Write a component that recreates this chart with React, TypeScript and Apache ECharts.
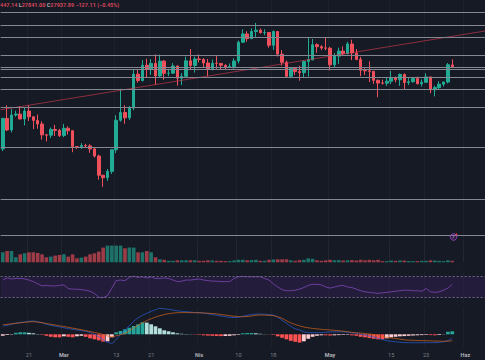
import React, { useEffect, useRef } from "react";
import * as echarts from "echarts";

// ---- data ----
const startDay = Date.UTC(2023, 1, 15);
const dayCount = 111;
const categories: string[] = Array.from({ length: dayCount }, (_, i) =>
  new Date(startDay + i * 86400000).toISOString().slice(0, 10)
);

// [open, close, low, high]
const ohlc: number[][] = [
  [22200, 24330, 22050, 24370], [24330, 23520, 23450, 25250], [23520, 24570, 23350, 24980], [24570, 24630, 24450, 24870],
  [24630, 24290, 24270, 25190], [24290, 24840, 23840, 25120], [24840, 24440, 24150, 25260], [24440, 24190, 23580, 24480],
  [24190, 23940, 23610, 24600], [23940, 23180, 22850, 24130], [23180, 23160, 22720, 23220], [23160, 23560, 22960, 23690],
  [23560, 23490, 23100, 23880], [23490, 23130, 23030, 23600], [23130, 23640, 23020, 23950], [23640, 23470, 23200, 23780],
  [23470, 22360, 21970, 23480], [22360, 22350, 22190, 22400], [22350, 22430, 22200, 22600], [22430, 22410, 22280, 22550],
  [22410, 22200, 21930, 22530], [22200, 21700, 21600, 22270], [21700, 20360, 20050, 21800], [20360, 20190, 19550, 20370],
  [20190, 20630, 19970, 20800], [20630, 22140, 20450, 22180], [22140, 24200, 21900, 24550], [24200, 24740, 24100, 26400],
  [24740, 24370, 23950, 25250], [24370, 25050, 24220, 25200], [25050, 27420, 24900, 27720], [27420, 26970, 26830, 27740],
  [26970, 28040, 26910, 28400], [28040, 27770, 27160, 28500], [27770, 28170, 27370, 28470], [28170, 27300, 26680, 28800],
  [27300, 28330, 27180, 28790], [28330, 27480, 27030, 28410], [27480, 27490, 27280, 27800], [27490, 27990, 27460, 28190],
  [27990, 27140, 26620, 28030], [27140, 27270, 26660, 27500], [27270, 28350, 27250, 28650], [28350, 28030, 27720, 29170],
  [28030, 28480, 27530, 28650], [28480, 28450, 28250, 28800], [28450, 28200, 27880, 28540], [28200, 27810, 27280, 28480],
  [27810, 28180, 27680, 28440], [28180, 28170, 27800, 28680], [28170, 28040, 27730, 28190], [28040, 27920, 27780, 28110],
  [27920, 27950, 27880, 28170], [27950, 28340, 27800, 28530], [28340, 29650, 28170, 29770], [29650, 30230, 29610, 30550],
  [30230, 29900, 29680, 30420], [29900, 30400, 29880, 30620], [30400, 30490, 29980, 31000], [30490, 30320, 30260, 30610],
  [30320, 30330, 30140, 30550], [30330, 29440, 29270, 30330], [29440, 30400, 29100, 30480], [30400, 28820, 28650, 30410],
  [28820, 28250, 28020, 29100], [28250, 27270, 27150, 28370], [27270, 27820, 27140, 27880], [27820, 27600, 27370, 27830],
  [27600, 27520, 26960, 28010], [27520, 28310, 27210, 28380], [28310, 28420, 27250, 30020], [28420, 29480, 28390, 29880],
  [29480, 29340, 28910, 29580], [29340, 29250, 29100, 29450], [29250, 29230, 29090, 29960], [29230, 28070, 27680, 29330],
  [28070, 28680, 27870, 28880], [28680, 29030, 28130, 29270], [29030, 28850, 28690, 29360], [28850, 29530, 28800, 29680],
  [29530, 28900, 28400, 29830], [28900, 28450, 28400, 29170], [28450, 27690, 27280, 28630], [27690, 27650, 27360, 27830],
  [27650, 27620, 26870, 28320], [27620, 26990, 26740, 27630], [26990, 26800, 25810, 27050], [26800, 26790, 26700, 27030],
  [26790, 26930, 26600, 27180], [26930, 27170, 26730, 27650], [27170, 27030, 26850, 27250], [27030, 27400, 26600, 27470],
  [27400, 26830, 26380, 27470], [26830, 26890, 26660, 27150], [26890, 27120, 26840, 27160], [27120, 26750, 26700, 27250],
  [26750, 26850, 26550, 27050], [26850, 27230, 26830, 27480], [27230, 26330, 26090, 27230], [26330, 26480, 25870, 26620],
  [26480, 26720, 26350, 26920], [26720, 26870, 26560, 26900], [26870, 28080, 26770, 28200], [28065, 27938, 27841, 28447],
];

const volume: number[] = [
  10, 11.3, 11.3, 5, 8, 9, 10, 10, 9.3, 8, 5, 5.7, 6.7, 7.3, 8, 5.7, 8, 4, 4.7, 5.7,
  8, 9, 10.7, 14.7, 16.7, 16.7, 16.7, 16.7, 14, 14.7, 14.7, 10, 10, 11.3, 10, 5, 3, 2.5, 1.5, 1.5,
  2, 2, 2, 2, 2, 1.5, 1.5, 2, 1.8, 1.5, 1.5, 1.2, 1.2, 1.8, 2.5, 2.5, 2, 2.2, 2.5, 1.5,
  1.5, 2.5, 2.8, 3, 3, 3, 2, 1.5, 2.2, 2.5, 4, 3.5, 2, 1.5, 2, 2.5, 2, 2.2, 1.8, 2,
  2.2, 1.8, 2.5, 2, 2.5, 2, 2.5, 1.2, 1.2, 1.8, 1.5, 1.8, 1.8, 1.3, 1.2, 1.2, 1.5, 1.5, 2, 1.8,
  1.5, 1.2, 2, 1.5,
];

const rsi: number[] = [
  63, 67, 65, 66, 66, 65, 63, 60, 56, 52, 53, 52, 52, 53, 54, 47, 46, 46, 45, 44,
  42, 38, 31, 30, 34, 48, 62, 63, 62, 68, 70, 68, 69, 67, 69, 66, 66, 67, 66, 63,
  60, 61, 63, 63, 64, 65, 63, 62, 61, 61, 60, 60, 60, 66, 69, 70, 69, 69, 69, 69,
  66, 63, 56, 50, 45, 43, 43, 44, 46, 49, 53, 55, 55, 54, 50, 48, 50, 52, 53, 50,
  49, 46, 43, 41, 40, 39, 38, 39, 40, 41, 42, 43, 44, 44, 43, 43, 42, 47, 41, 40,
  41, 44, 48, 55,
];

const macd: number[] = [
  8.2, 9, 10, 11.2, 11.8, 12.4, 13, 13.3, 12.5, 11.5, 10, 9, 8.2, 7.4, 6.5, 5.8, 5, 4.3, 3.7, 3,
  1.8, 0, -2.5, -5.5, -8, -9, -5, 0, 4, 8.5, 13, 16.5, 19, 21, 23, 24.5, 26, 25.5, 25, 24.3,
  23.5, 23, 22.6, 22.2, 21.8, 21.5, 21.2, 20.5, 19.8, 19, 18.3, 17.6, 17, 16.8, 17, 18, 19, 19.8, 20.3, 20.2,
  20, 19.6, 19.3, 17, 14, 11, 8, 5.5, 4.3, 2.5, 1.8, 1.6, 1.6, 1.7, 2, 2.3, 2.5, 2.6, 2.4, 2,
  1.5, 1, 0.2, -0.8, -1.8, -2.8, -4, -5.3, -6.4, -7, -7.5, -7.9, -8.3, -8.4, -8.4, -8.4, -8.4, -8.3, -8.4, -8.3,
  -8, -7.5, -6.2, -4,
];

const signal: number[] = [
  9.5, 10, 10.5, 11, 11.5, 12, 12.4, 12.6, 12.2, 11.6, 10.8, 10, 9.3, 8.5, 7.8, 7, 6.2, 5.4, 4.6, 3.7,
  2.8, 1.8, 1, -0.3, -1.6, -2.4, -1.5, -0.3, 0.8, 3.5, 6.2, 9, 11.5, 13.7, 15.6, 17.2, 18.6, 19.8, 20.6, 21.2,
  21.6, 21.7, 21.7, 21.7, 21.6, 21.6, 21.4, 21.1, 20.8, 20.4, 19.8, 19.2, 18.6, 18.1, 17.8, 17.6, 17.8, 18.3, 19, 19.3,
  19.2, 19, 18.6, 17.5, 16, 13.5, 11.5, 9.8, 8.5, 7.3, 6.5, 5.9, 5.4, 5, 4.6, 4.3, 4, 3.6, 3.1, 2.6,
  2, 1.6, 1.2, 0.8, 0.3, -0.2, -1.2, -2.1, -3, -3.6, -4.2, -4.8, -5.5, -5.8, -6, -6.2, -6.3, -6.4, -6.5, -6.7,
  -6.8, -7, -6.9, -6.4,
];

const hist: number[] = [
  -1.5, -0.6, -0.4, 1.5, 2, 2, 1.5, 1, 0.3, -0.5, -1.5, -2.5, -3, -3, -2, -2.5, -3, -2, -1.5, -2.5,
  -4, -5, -6, -7.3, -7, -3, 2, 3.3, 5, 6.5, 8.3, 10, 12, 11.7, 10, 8, 6, 4, 3, 2,
  1, 0.5, 0.3, 0.2, -0.3, -0.5, -1, -1.3, -1.5, -1.7, -1.8, -1.7, -1.5, -1, -0.6, 1, 1.2, 1.3, 1, 0.5,
  0.2, -0.2, -0.5, -2, -3.5, -5, -6.5, -7.5, -8.3, -7, -4.5, -2.5, -1.5, -1, -1, -1.2, -1, -0.8, -0.6, -0.5,
  -1, -1.5, -2.5, -3, -3.8, -4.5, -5, -5, -4, -3, -2.5, -2, -1.8, -1.5, -1.2, -1, -0.8, -0.6, -0.8, -1,
  -0.7, -0.2, 2.5, 3,
];
const histBefore = -2.2;

const levels: number[] = [31762, 30854, 30016, 28758, 27885, 27760, 27222, 26349, 25126, 22332, 18700, 16186];
const trendLine: number[][] = [[-0.5, 24930], [110.5, 30435]];

const tickIdx: number[] = [6, 14, 26, 34, 45, 54, 62, 75, 89, 97, 106];
const tickText: string[] = ["21", "Mar", "13", "21", "Nis", "10", "18", "May", "15", "23", "Haz"];
const monthNames: string[] = ["Mar", "Nis", "May", "Haz"];

// ---- styling ----
const UP = "#22ab94";
const DOWN = "#f0505c";
const BG = "#161a25";
const FONT = 'Roboto, "Liberation Sans", Arial, sans-serif';

const isTick = (i: number) => tickIdx.indexOf(i) >= 0;
const vSplit = {
  show: true,
  interval: (i: number) => isTick(i),
  lineStyle: { color: "rgba(255,255,255,0.03)", width: 1 },
};

const GL = 0.6;
const grids = [
  { left: GL, right: 0, top: 0, height: 262 },
  { left: GL, right: 0, top: 242.3, height: 20 },
  { left: GL, right: 0, top: 270.95, height: 32.1 },
  { left: GL, right: 0, top: 306.3, height: 40 },
];

function catAxis(gridIndex: number, labels: boolean) {
  return {
    type: "category",
    gridIndex,
    data: categories,
    boundaryGap: true,
    axisLine: { show: false },
    axisTick: { show: false },
    splitLine: vSplit,
    axisLabel: labels
      ? {
          show: true,
          interval: (i: number) => isTick(i),
          margin: 5.5,
          fontSize: 5.5,
          fontFamily: FONT,
          color: "#7d808a",
          formatter: (_v: string, i: number) => {
            const k = tickIdx.indexOf(i);
            if (k < 0) return "";
            const t = tickText[k];
            return monthNames.indexOf(t) >= 0 ? "{m|" + t + "}" : t;
          },
          rich: { m: { fontSize: 5.5, fontWeight: "bold", color: "#aeb1ba", fontFamily: FONT } },
        }
      : { show: false },
  };
}

const option: any = {
  animation: false,
  backgroundColor: BG,
  title: {
    left: 0,
    top: 2,
    padding: 0,
    text: "{v|447.14} {k|L}{v|27841.00} {k|C}{v|27937.89} {v|\u2212127.11 (\u22120.45%)}",
    textStyle: {
      fontSize: 5.5,
      fontFamily: FONT,
      rich: {
        v: { color: "#d4465b", fontSize: 5.5, fontFamily: FONT },
        k: { color: "#a9abb4", fontSize: 5.5, fontFamily: FONT },
      },
    },
  },
  grid: grids,
  xAxis: [
    catAxis(0, false),
    { type: "value", gridIndex: 0, min: -0.5, max: dayCount - 0.5, show: false },
    catAxis(1, false),
    catAxis(2, false),
    catAxis(3, true),
  ],
  yAxis: [
    { type: "value", gridIndex: 0, min: 14300, max: 32600, show: false, splitLine: { show: false } },
    { type: "value", gridIndex: 1, min: 0, max: 20, show: false, splitLine: { show: false } },
    { type: "value", gridIndex: 2, min: 20, max: 80, show: false, splitLine: { show: false } },
    { type: "value", gridIndex: 3, min: -12, max: 28, show: false, splitLine: { show: false } },
  ],
  graphic: [
    {
      type: "circle",
      shape: { cx: 453.5, cy: 237, r: 3.3 },
      style: { fill: "rgba(156,39,176,0.18)", stroke: "#9a4fd0", lineWidth: 0.8 },
      z: 100,
    },
    {
      type: "line",
      shape: { x1: 452.6, y1: 238.6, x2: 454.4, y2: 235.6 },
      style: { stroke: "#b58ae0", lineWidth: 0.7 },
      z: 101,
    },
    {
      type: "circle",
      shape: { cx: 456.4, cy: 234.3, r: 0.9 },
      style: { fill: "#f23645" },
      z: 102,
    },
  ],
  series: [
    {
      type: "bar",
      name: "Volume",
      xAxisIndex: 2,
      yAxisIndex: 1,
      data: volume,
      barWidth: "82%",
      itemStyle: {
        color: (p: any) =>
          ohlc[p.dataIndex][1] >= ohlc[p.dataIndex][0] ? "rgba(34,171,148,0.62)" : "rgba(240,80,92,0.62)",
      },
      z: 1,
    },
    {
      type: "candlestick",
      name: "BTC",
      xAxisIndex: 0,
      yAxisIndex: 0,
      data: ohlc,
      barWidth: 3,
      itemStyle: { color: UP, color0: DOWN, borderColor: UP, borderColor0: DOWN, borderWidth: 1 },
      markLine: {
        silent: true,
        symbol: ["none", "none"],
        label: { show: false },
        lineStyle: { color: "#858892", width: 1, type: "solid" },
        data: levels.map((v) => ({ yAxis: v })),
      },
      z: 3,
    },
    {
      type: "line",
      name: "Trend",
      xAxisIndex: 1,
      yAxisIndex: 0,
      data: trendLine,
      symbol: "none",
      lineStyle: { color: "rgba(220,60,80,0.75)", width: 0.8 },
      z: 4,
    },
    {
      type: "line",
      name: "RSI",
      xAxisIndex: 3,
      yAxisIndex: 2,
      data: rsi,
      symbol: "none",
      lineStyle: { color: "#7c47b8", width: 0.8 },
      markArea: {
        silent: true,
        itemStyle: { color: "rgba(120,50,200,0.13)" },
        data: [[{ yAxis: 30 }, { yAxis: 70 }]],
      },
      markLine: {
        silent: true,
        symbol: ["none", "none"],
        label: { show: false },
        lineStyle: { color: "#7f7d92", width: 0.8, type: [2, 2] },
        data: [{ yAxis: 70 }, { yAxis: 30 }],
      },
    },
    {
      type: "bar",
      name: "Histogram",
      xAxisIndex: 4,
      yAxisIndex: 3,
      data: hist,
      barWidth: "86%",
      itemStyle: {
        color: (p: any) => {
          const i = p.dataIndex;
          const v = hist[i];
          const prev = i > 0 ? hist[i - 1] : histBefore;
          if (v >= 0) return v >= prev ? "#26a69a" : "#b2dfdb";
          return v <= prev ? "#ff5252" : "#ffcdd2";
        },
      },
    },
    {
      type: "line",
      name: "MACD",
      xAxisIndex: 4,
      yAxisIndex: 3,
      data: macd,
      symbol: "none",
      smooth: 0.3,
      lineStyle: { color: "#2a5fd8", width: 0.7 },
    },
    {
      type: "line",
      name: "Signal",
      xAxisIndex: 4,
      yAxisIndex: 3,
      data: signal,
      symbol: "none",
      smooth: 0.3,
      lineStyle: { color: "#d9651a", width: 0.7 },
    },
  ],
};

export default function App() {
  const ref = useRef<HTMLDivElement>(null);
  useEffect(() => {
    document.body.style.margin = "0";
    const chart = echarts.init(ref.current as HTMLDivElement, null, { renderer: "svg" });
    chart.setOption(option);
    return () => chart.dispose();
  }, []);
  return (
    <div
      ref={ref}
      style={{ position: "absolute", left: 0, top: 0, width: 485, height: 360 }}
    />
  );
}
